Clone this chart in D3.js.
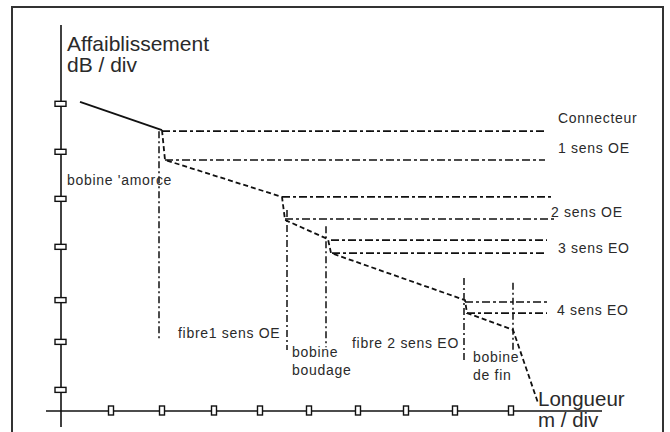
<!DOCTYPE html>
<html>
<head>
<meta charset="utf-8">
<script src="https://cdn.jsdelivr.net/npm/d3@7"></script>
<style>
html,body{margin:0;padding:0;background:#fff;}
svg{display:block;}
text{font-family:"Liberation Sans",Arial,sans-serif;fill:#2a2a2a;}
</style>
</head>
<body>
<svg id="chart" width="670" height="432"></svg>
<script>
// ---- data (axis units: m/div horizontally, dB/div vertically) ----
const xTicks = [1.0, 2.02, 3.06, 3.98, 4.96, 5.94, 6.9, 7.88, 9.0];
const yTicks = [0.44, 1.44, 2.31, 3.42, 4.42, 5.40, 6.40];

// backscatter trace: solid first section, then dashed sections
const solidX = [0.38, 2.02];
const solidY = [6.44, 5.85];
const traceX = [2.02, 2.08, 4.42, 4.48, 5.34, 5.40, 8.08, 8.12, 9.04, 9.54];
const traceY = [5.85, 5.23, 4.46, 3.98, 3.58, 3.29, 2.31, 2.04, 1.69, 0.17];

// event reference levels (pairs: before / after each event)
const eventNames = ["Connecteur", "1 sens OE", "2 sens OE", "3 sens EO", "4 sens EO"];
const levelY     = [5.83, 5.23, 4.46, 4.00, 3.56, 3.29, 2.27, 2.04];
const levelStart = [2.02, 2.08, 4.42, 4.48, 5.40, 5.42, 8.08, 8.12];
const levelEnd   = [9.68, 9.68, 9.84, 9.88, 9.72, 9.72, 9.72, 9.72];

// section boundaries
const boundX    = [1.96, 4.52, 5.30, 8.06, 9.04];
const boundTop  = [5.83, 4.19, 3.85, 2.77, 2.67];
const boundBot  = [1.48, 1.27, 1.33, 1.06, 1.27];

// section labels
const sectionNames = [["bobine 'amorce"], ["fibre1 sens OE"], ["bobine", "boudage"], ["fibre 2 sens EO"], ["bobine", "de fin"]];
const sectionX = [0.12, 2.34, 4.62, 5.82, 8.24];
const sectionY = [4.70, 1.52, 1.13, 1.31, 1.02];

const rightLabelX = [9.94, 9.94, 9.80, 9.94, 9.92];
const rightLabelY = [6.00, 5.38, 4.05, 3.30, 2.00];

// ---- drawing ----
const svg = d3.select("#chart");
const x = d3.scaleLinear().domain([0, 10]).range([61, 561]);
const y = d3.scaleLinear().domain([0, 8]).range([411, 27]);

// frame
svg.append("rect").attr("x", 12).attr("y", 7).attr("width", 651).attr("height", 440)
  .attr("fill", "none").attr("stroke", "#333").attr("stroke-width", 2);

// axes
svg.append("line").attr("x1", x(0)).attr("x2", x(0)).attr("y1", 25).attr("y2", 427)
  .attr("stroke", "#111").attr("stroke-width", 1.6);
svg.append("line").attr("x1", 46).attr("x2", 602).attr("y1", y(0)).attr("y2", y(0))
  .attr("stroke", "#111").attr("stroke-width", 1.6);

svg.selectAll("rect.xt").data(xTicks).join("rect").attr("class", "xt")
  .attr("x", d => x(d) - 2.5).attr("y", y(0) - 5).attr("width", 5).attr("height", 9)
  .attr("fill", "#fff").attr("stroke", "#111").attr("stroke-width", 1.4);
svg.selectAll("rect.yt").data(yTicks).join("rect").attr("class", "yt")
  .attr("x", x(0) - 6).attr("y", d => y(d) - 2.5).attr("width", 11).attr("height", 5)
  .attr("fill", "#fff").attr("stroke", "#111").attr("stroke-width", 1.4);

// axis titles
const at = svg.append("g").style("font-size", "21px");
at.append("text").attr("x", 67).attr("y", 51).text("Affaiblissement");
at.append("text").attr("x", 67).attr("y", 72).text("dB / div");
at.append("text").attr("x", 538).attr("y", 406).style("font-size", "20.5px").text("Longueur");
at.append("text").attr("x", 538).attr("y", 427).style("font-size", "20.5px").text("m / div");

// levels
const dd = "8,3,3,3";
svg.selectAll("line.lvl").data(levelY).join("line").attr("class", "lvl")
  .attr("x1", (d, i) => x(levelStart[i])).attr("x2", (d, i) => x(levelEnd[i]))
  .attr("y1", d => y(d)).attr("y2", d => y(d))
  .attr("stroke", "#111").attr("stroke-width", 1.6).attr("stroke-dasharray", dd);

// boundaries
svg.selectAll("line.bd").data(boundX).join("line").attr("class", "bd")
  .attr("x1", d => x(d)).attr("x2", d => x(d))
  .attr("y1", (d, i) => y(boundTop[i])).attr("y2", (d, i) => y(boundBot[i]))
  .attr("stroke", "#111").attr("stroke-width", 1.5).attr("stroke-dasharray", "7,3,2,3");

// trace
const line = d3.line().x(d => x(d[0])).y(d => y(d[1]));
svg.append("path").datum(solidX.map((v, i) => [v, solidY[i]]))
  .attr("d", line).attr("fill", "none").attr("stroke", "#111").attr("stroke-width", 1.8);
svg.append("path").datum(traceX.map((v, i) => [v, traceY[i]]))
  .attr("d", line).attr("fill", "none").attr("stroke", "#111").attr("stroke-width", 1.8)
  .attr("stroke-dasharray", "5,3");

// right labels
svg.selectAll("text.ev").data(eventNames).join("text").attr("class", "ev")
  .attr("x", (d, i) => x(rightLabelX[i])).attr("y", (d, i) => y(rightLabelY[i]))
  .style("font-size", "14px").style("letter-spacing", "0.7px").text(d => d);

// section labels
const sl = svg.selectAll("text.sec").data(sectionNames).join("text").attr("class", "sec")
  .attr("x", (d, i) => x(sectionX[i])).attr("y", (d, i) => y(sectionY[i]))
  .style("font-size", "14px").style("letter-spacing", "0.7px");
sl.selectAll("tspan").data((d, i) => d.map(t => ({t, i}))).join("tspan")
  .attr("x", d => x(sectionX[d.i])).attr("dy", (d, j) => j === 0 ? 0 : 18).text(d => d.t);
</script>
</body>
</html>
